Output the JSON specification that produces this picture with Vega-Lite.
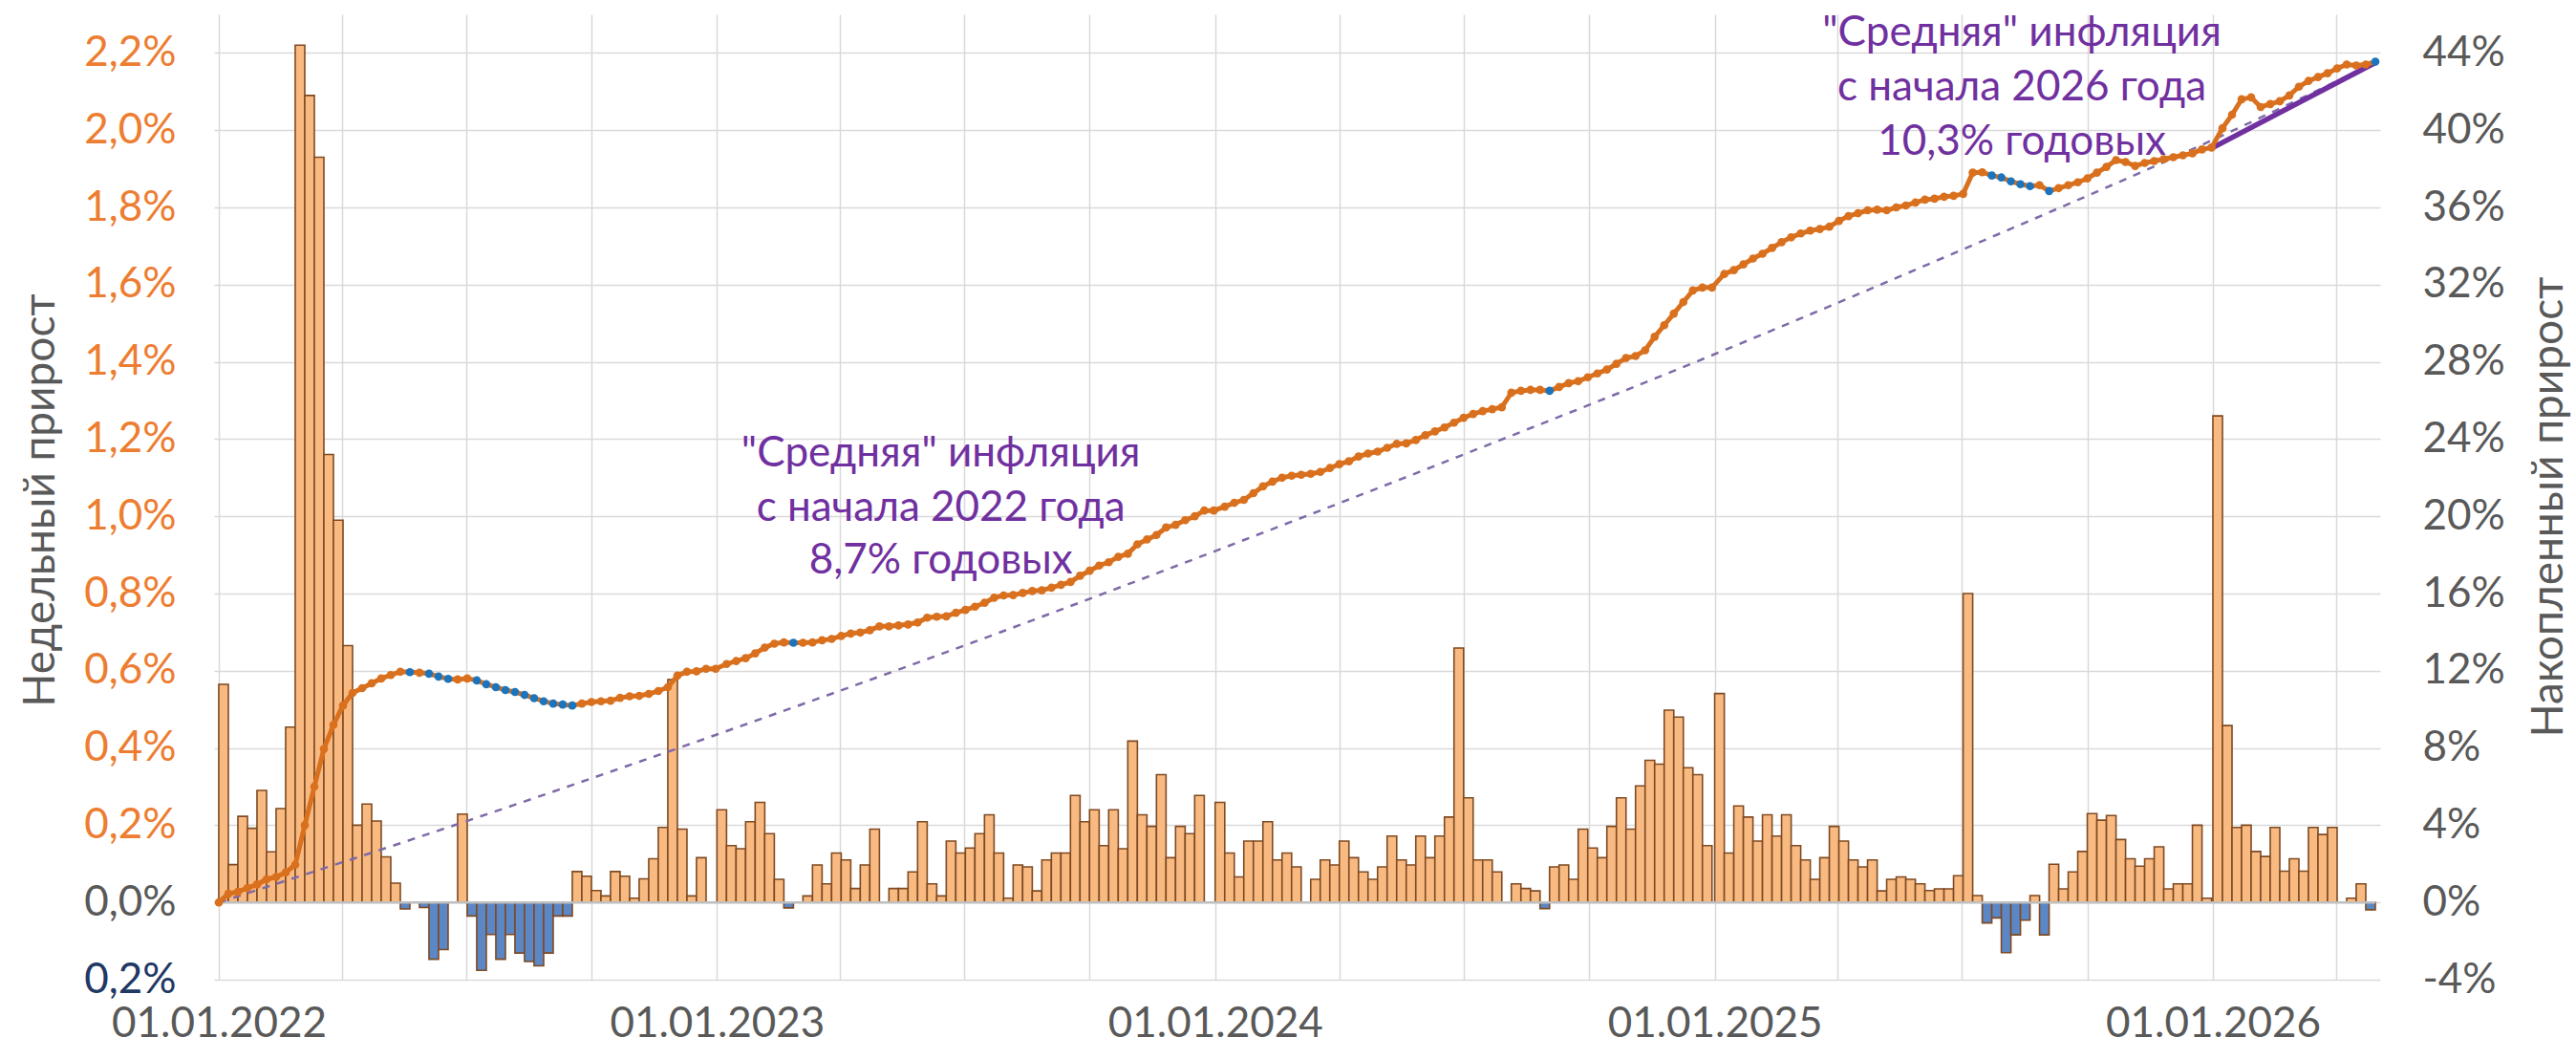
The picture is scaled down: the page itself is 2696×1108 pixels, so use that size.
{
  "$schema": "https://vega.github.io/schema/vega-lite/v6.json",
  "width": 2267,
  "height": 1010,
  "autosize": {"type": "none"},
  "padding": {"left": 224, "top": 15, "right": 205, "bottom": 83},
  "background": "white",
  "config": {"view": {"stroke": null}, "font": "Lato"},
  "datasets": {
    "weeks": [
      {"d":"2022-01-01","c":0},
      {"d":"2022-01-08","w":0.565,"c":0.45},{"d":"2022-01-15","w":0.098,"c":0.55},{"d":"2022-01-22","w":0.223,"c":0.75},{"d":"2022-01-29","w":0.192,"c":0.93},
      {"d":"2022-02-05","w":0.29,"c":1.2},{"d":"2022-02-12","w":0.131,"c":1.32},{"d":"2022-02-19","w":0.243,"c":1.55},{"d":"2022-02-26","w":0.454,"c":1.95},
      {"d":"2022-03-05","w":2.22,"c":4.0},{"d":"2022-03-12","w":2.09,"c":6.0},{"d":"2022-03-19","w":1.93,"c":7.95},{"d":"2022-03-26","w":1.16,"c":9.2},
      {"d":"2022-04-02","w":0.99,"c":10.2},{"d":"2022-04-09","w":0.665,"c":10.85},{"d":"2022-04-16","w":0.2,"c":11.1},{"d":"2022-04-23","w":0.255,"c":11.35},{"d":"2022-04-30","w":0.211,"c":11.6},
      {"d":"2022-05-07","w":0.118,"c":11.78},{"d":"2022-05-14","w":0.05,"c":11.95},{"d":"2022-05-21","w":-0.017,"c":11.93},{"d":"2022-05-28","w":0,"c":11.9},
      {"d":"2022-06-04","w":-0.013,"c":11.85},{"d":"2022-06-11","w":-0.147,"c":11.7},{"d":"2022-06-18","w":-0.122,"c":11.58},{"d":"2022-06-25","w":0,"c":11.55},
      {"d":"2022-07-02","w":0.229,"c":11.6},{"d":"2022-07-09","w":-0.035,"c":11.5},{"d":"2022-07-16","w":-0.176,"c":11.3},{"d":"2022-07-23","w":-0.083,"c":11.15},{"d":"2022-07-30","w":-0.147,"c":11.0},
      {"d":"2022-08-06","w":-0.083,"c":10.9},{"d":"2022-08-13","w":-0.131,"c":10.75},{"d":"2022-08-20","w":-0.153,"c":10.58},{"d":"2022-08-27","w":-0.164,"c":10.42},
      {"d":"2022-09-03","w":-0.131,"c":10.3},{"d":"2022-09-10","w":-0.035,"c":10.25},{"d":"2022-09-17","w":-0.035,"c":10.2},{"d":"2022-09-24","w":0.08,"c":10.3},
      {"d":"2022-10-01","w":0.068,"c":10.38},{"d":"2022-10-08","w":0.031,"c":10.42},{"d":"2022-10-15","w":0.017,"c":10.45},{"d":"2022-10-22","w":0.08,"c":10.6},{"d":"2022-10-29","w":0.068,"c":10.68},
      {"d":"2022-11-05","w":0.011,"c":10.7},{"d":"2022-11-12","w":0.061,"c":10.8},{"d":"2022-11-19","w":0.113,"c":10.95},{"d":"2022-11-26","w":0.194,"c":11.15},
      {"d":"2022-12-03","w":0.577,"c":11.75},{"d":"2022-12-10","w":0.19,"c":11.95},{"d":"2022-12-17","w":0.017,"c":11.97},{"d":"2022-12-24","w":0.116,"c":12.1},{"d":"2022-12-31","w":0,"c":12.1},
      {"d":"2023-01-08","w":0.24,"c":12.35},{"d":"2023-01-15","w":0.147,"c":12.5},{"d":"2023-01-22","w":0.139,"c":12.65},{"d":"2023-01-29","w":0.209,"c":12.9},
      {"d":"2023-02-05","w":0.259,"c":13.2},{"d":"2023-02-12","w":0.178,"c":13.4},{"d":"2023-02-19","w":0.06,"c":13.47},{"d":"2023-02-26","w":-0.014,"c":13.45},
      {"d":"2023-03-05","w":0,"c":13.45},{"d":"2023-03-12","w":0.017,"c":13.47},{"d":"2023-03-19","w":0.097,"c":13.58},{"d":"2023-03-26","w":0.048,"c":13.65},
      {"d":"2023-04-02","w":0.128,"c":13.8},{"d":"2023-04-09","w":0.11,"c":13.93},{"d":"2023-04-16","w":0.036,"c":13.98},{"d":"2023-04-23","w":0.097,"c":14.1},{"d":"2023-04-30","w":0.19,"c":14.3},
      {"d":"2023-05-07","w":0,"c":14.3},{"d":"2023-05-14","w":0.036,"c":14.35},{"d":"2023-05-21","w":0.036,"c":14.4},{"d":"2023-05-28","w":0.079,"c":14.5},
      {"d":"2023-06-04","w":0.209,"c":14.75},{"d":"2023-06-11","w":0.048,"c":14.8},{"d":"2023-06-18","w":0.017,"c":14.82},{"d":"2023-06-25","w":0.159,"c":15.0},
      {"d":"2023-07-02","w":0.128,"c":15.15},{"d":"2023-07-09","w":0.141,"c":15.32},{"d":"2023-07-16","w":0.178,"c":15.52},{"d":"2023-07-23","w":0.227,"c":15.78},{"d":"2023-07-30","w":0.128,"c":15.9},
      {"d":"2023-08-06","w":0.011,"c":15.92},{"d":"2023-08-13","w":0.097,"c":16.03},{"d":"2023-08-20","w":0.092,"c":16.13},{"d":"2023-08-27","w":0.03,"c":16.17},
      {"d":"2023-09-03","w":0.11,"c":16.3},{"d":"2023-09-10","w":0.128,"c":16.45},{"d":"2023-09-17","w":0.128,"c":16.6},{"d":"2023-09-24","w":0.277,"c":16.92},
      {"d":"2023-10-01","w":0.209,"c":17.18},{"d":"2023-10-08","w":0.24,"c":17.45},{"d":"2023-10-15","w":0.147,"c":17.62},{"d":"2023-10-22","w":0.24,"c":17.9},{"d":"2023-10-29","w":0.139,"c":18.06},
      {"d":"2023-11-05","w":0.418,"c":18.55},{"d":"2023-11-12","w":0.227,"c":18.8},{"d":"2023-11-19","w":0.197,"c":19.03},{"d":"2023-11-26","w":0.331,"c":19.42},
      {"d":"2023-12-03","w":0.116,"c":19.56},{"d":"2023-12-10","w":0.197,"c":19.8},{"d":"2023-12-17","w":0.178,"c":20.0},{"d":"2023-12-24","w":0.277,"c":20.3},{"d":"2023-12-31","w":0,"c":20.3},
      {"d":"2024-01-08","w":0.259,"c":20.5},{"d":"2024-01-15","w":0.128,"c":20.7},{"d":"2024-01-22","w":0.066,"c":20.85},{"d":"2024-01-29","w":0.159,"c":21.2},
      {"d":"2024-02-05","w":0.159,"c":21.55},{"d":"2024-02-12","w":0.209,"c":21.8},{"d":"2024-02-19","w":0.11,"c":22.0},{"d":"2024-02-26","w":0.128,"c":22.1},
      {"d":"2024-03-04","w":0.092,"c":22.15},{"d":"2024-03-11","w":0,"c":22.2},{"d":"2024-03-18","w":0.06,"c":22.3},{"d":"2024-03-25","w":0.11,"c":22.5},
      {"d":"2024-04-01","w":0.097,"c":22.7},{"d":"2024-04-08","w":0.159,"c":22.85},{"d":"2024-04-15","w":0.116,"c":23.1},{"d":"2024-04-22","w":0.079,"c":23.25},{"d":"2024-04-29","w":0.06,"c":23.35},
      {"d":"2024-05-06","w":0.092,"c":23.55},{"d":"2024-05-13","w":0.172,"c":23.75},{"d":"2024-05-20","w":0.11,"c":23.78},{"d":"2024-05-27","w":0.097,"c":23.95},
      {"d":"2024-06-03","w":0.172,"c":24.2},{"d":"2024-06-10","w":0.116,"c":24.4},{"d":"2024-06-17","w":0.172,"c":24.6},{"d":"2024-06-24","w":0.221,"c":24.85},
      {"d":"2024-07-01","w":0.659,"c":25.1},{"d":"2024-07-08","w":0.271,"c":25.3},{"d":"2024-07-15","w":0.11,"c":25.45},{"d":"2024-07-22","w":0.11,"c":25.55},{"d":"2024-07-29","w":0.079,"c":25.65},
      {"d":"2024-08-05","w":0,"c":26.4},{"d":"2024-08-12","w":0.048,"c":26.5},{"d":"2024-08-19","w":0.036,"c":26.55},{"d":"2024-08-26","w":0.03,"c":26.55},
      {"d":"2024-09-02","w":-0.016,"c":26.5},{"d":"2024-09-09","w":0.092,"c":26.7},{"d":"2024-09-16","w":0.097,"c":26.9},{"d":"2024-09-23","w":0.06,"c":27.0},{"d":"2024-09-30","w":0.19,"c":27.2},
      {"d":"2024-10-07","w":0.141,"c":27.4},{"d":"2024-10-14","w":0.116,"c":27.6},{"d":"2024-10-21","w":0.197,"c":27.9},{"d":"2024-10-28","w":0.271,"c":28.2},
      {"d":"2024-11-04","w":0.19,"c":28.3},{"d":"2024-11-11","w":0.302,"c":28.6},{"d":"2024-11-18","w":0.368,"c":29.3},{"d":"2024-11-25","w":0.358,"c":29.9},
      {"d":"2024-12-02","w":0.498,"c":30.5},{"d":"2024-12-09","w":0.48,"c":31.1},{"d":"2024-12-16","w":0.349,"c":31.7},{"d":"2024-12-23","w":0.331,"c":31.85},{"d":"2024-12-30","w":0.147,"c":31.85},
      {"d":"2025-01-08","w":0.541,"c":32.55},{"d":"2025-01-15","w":0.128,"c":32.75},{"d":"2025-01-22","w":0.25,"c":33.05},{"d":"2025-01-29","w":0.221,"c":33.35},
      {"d":"2025-02-05","w":0.159,"c":33.6},{"d":"2025-02-12","w":0.227,"c":33.9},{"d":"2025-02-19","w":0.172,"c":34.2},{"d":"2025-02-26","w":0.227,"c":34.45},
      {"d":"2025-03-05","w":0.147,"c":34.65},{"d":"2025-03-12","w":0.11,"c":34.8},{"d":"2025-03-19","w":0.06,"c":34.88},{"d":"2025-03-26","w":0.116,"c":35.0},
      {"d":"2025-04-02","w":0.197,"c":35.3},{"d":"2025-04-09","w":0.159,"c":35.55},{"d":"2025-04-16","w":0.11,"c":35.7},{"d":"2025-04-23","w":0.092,"c":35.85},{"d":"2025-04-30","w":0.11,"c":35.88},
      {"d":"2025-05-07","w":0.03,"c":35.85},{"d":"2025-05-14","w":0.06,"c":36.0},{"d":"2025-05-21","w":0.066,"c":36.1},{"d":"2025-05-28","w":0.06,"c":36.25},
      {"d":"2025-06-04","w":0.048,"c":36.4},{"d":"2025-06-11","w":0.031,"c":36.45},{"d":"2025-06-18","w":0.035,"c":36.55},{"d":"2025-06-25","w":0.035,"c":36.6},
      {"d":"2025-07-02","w":0.069,"c":36.7},{"d":"2025-07-09","w":0.8,"c":37.8},{"d":"2025-07-16","w":0.018,"c":37.82},{"d":"2025-07-23","w":-0.053,"c":37.65},{"d":"2025-07-30","w":-0.04,"c":37.55},
      {"d":"2025-08-06","w":-0.13,"c":37.35},{"d":"2025-08-13","w":-0.084,"c":37.2},{"d":"2025-08-20","w":-0.046,"c":37.1},{"d":"2025-08-27","w":0.018,"c":37.15},
      {"d":"2025-09-03","w":-0.084,"c":36.85},{"d":"2025-09-10","w":0.099,"c":37.0},{"d":"2025-09-17","w":0.035,"c":37.15},{"d":"2025-09-24","w":0.079,"c":37.3},
      {"d":"2025-10-01","w":0.132,"c":37.5},{"d":"2025-10-08","w":0.23,"c":37.8},{"d":"2025-10-15","w":0.213,"c":38.1},{"d":"2025-10-22","w":0.225,"c":38.45},{"d":"2025-10-29","w":0.163,"c":38.35},
      {"d":"2025-11-05","w":0.113,"c":38.15},{"d":"2025-11-12","w":0.094,"c":38.3},{"d":"2025-11-19","w":0.113,"c":38.4},{"d":"2025-11-26","w":0.144,"c":38.5},
      {"d":"2025-12-03","w":0.035,"c":38.6},{"d":"2025-12-10","w":0.048,"c":38.7},{"d":"2025-12-17","w":0.048,"c":38.8},{"d":"2025-12-24","w":0.2,"c":39.0},{"d":"2025-12-31","w":0.011,"c":39.1},
      {"d":"2026-01-08","w":1.26,"c":40.1},{"d":"2026-01-15","w":0.458,"c":40.8},{"d":"2026-01-22","w":0.194,"c":41.6},{"d":"2026-01-29","w":0.2,"c":41.7},
      {"d":"2026-02-05","w":0.132,"c":41.2},{"d":"2026-02-12","w":0.119,"c":41.35},{"d":"2026-02-19","w":0.194,"c":41.5},{"d":"2026-02-26","w":0.081,"c":41.8},
      {"d":"2026-03-05","w":0.113,"c":42.25},{"d":"2026-03-12","w":0.081,"c":42.55},{"d":"2026-03-19","w":0.194,"c":42.75},{"d":"2026-03-26","w":0.176,"c":42.95},
      {"d":"2026-04-02","w":0.194,"c":43.2},{"d":"2026-04-09","w":0,"c":43.4},{"d":"2026-04-16","w":0.011,"c":43.35},{"d":"2026-04-23","w":0.048,"c":43.4},{"d":"2026-04-30","w":-0.019,"c":43.55}
    ],
    "avg22": [
      {"d":"2022-01-01","c":0},{"d":"2022-07-01","c":4.2},{"d":"2023-01-01","c":8.7},{"d":"2023-07-01","c":13.3},
      {"d":"2024-01-01","c":18.2},{"d":"2024-07-01","c":23.2},{"d":"2025-01-01","c":28.4},{"d":"2025-07-01","c":33.8},
      {"d":"2026-01-01","c":39.5},{"d":"2026-04-30","c":43.5}
    ],
    "avg26": [
      {"d":"2026-01-01","c":39.1},{"d":"2026-04-30","c":43.5}
    ],
    "zero": [
      {"d":"2022-01-01","c":0},{"d":"2026-04-30","c":0}
    ],
    "notes": [
      {"d":"2023-06-14","c":22.57,"t":"\"Средняя\" инфляция"},
      {"d":"2023-06-14","c":19.75,"t":"с начала 2022 года"},
      {"d":"2023-06-14","c":17.03,"t":"8,7% годовых"},
      {"d":"2025-08-14","c":44.36,"t":"\"Средняя\" инфляция"},
      {"d":"2025-08-14","c":41.53,"t":"с начала 2026 года"},
      {"d":"2025-08-14","c":38.73,"t":"10,3% годовых"}
    ]
  },
  "encoding": {
    "x": {
      "field": "d",
      "type": "temporal",
      "scale": {
        "type": "utc",
        "domain": [
          {"year": 2022, "month": 1, "date": 1, "utc": true},
          {"year": 2026, "month": 4, "date": 30, "utc": true}
        ]
      },
      "axis": {
        "values": [
          {"year": 2022, "month": 1, "date": 1, "utc": true},
          {"year": 2022, "month": 4, "date": 1, "utc": true},
          {"year": 2022, "month": 7, "date": 1, "utc": true},
          {"year": 2022, "month": 10, "date": 1, "utc": true},
          {"year": 2023, "month": 1, "date": 1, "utc": true},
          {"year": 2023, "month": 4, "date": 1, "utc": true},
          {"year": 2023, "month": 7, "date": 1, "utc": true},
          {"year": 2023, "month": 10, "date": 1, "utc": true},
          {"year": 2024, "month": 1, "date": 1, "utc": true},
          {"year": 2024, "month": 4, "date": 1, "utc": true},
          {"year": 2024, "month": 7, "date": 1, "utc": true},
          {"year": 2024, "month": 10, "date": 1, "utc": true},
          {"year": 2025, "month": 1, "date": 1, "utc": true},
          {"year": 2025, "month": 4, "date": 1, "utc": true},
          {"year": 2025, "month": 7, "date": 1, "utc": true},
          {"year": 2025, "month": 10, "date": 1, "utc": true},
          {"year": 2026, "month": 1, "date": 1, "utc": true},
          {"year": 2026, "month": 4, "date": 1, "utc": true}
        ],
        "labelExpr": "utcmonth(datum.value) == 0 ? utcFormat(datum.value, '%d.%m.%Y') : ''",
        "labelColor": "#595959",
        "labelFontSize": 44,
        "labelPadding": 24,
        "labelLimit": 500,
        "labelOverlap": false,
        "labelBound": false,
        "labelFlush": false,
        "grid": true,
        "gridColor": "#D9D9D9",
        "gridWidth": 1.5,
        "domain": false,
        "ticks": false,
        "title": null
      }
    }
  },
  "layer": [
    {
      "data": {"name": "weeks"},
      "transform": [{"filter": "isValid(datum.w) && datum.w != 0"}],
      "mark": {"type": "bar", "width": 10.04, "xOffset": -5.02, "stroke": "#7E4A22", "strokeWidth": 1.6},
      "encoding": {
        "y": {
          "field": "w",
          "type": "quantitative",
          "scale": {"domain": [-0.2, 2.3], "nice": false, "zero": false},
          "axis": {
            "orient": "left",
            "values": [-0.2, 0, 0.2, 0.4, 0.6, 0.8, 1, 1.2, 1.4, 1.6, 1.8, 2, 2.2],
            "labelExpr": "replace(format(abs(datum.value), '.1f'), '.', ',') + '%'",
            "labelColor": {
              "condition": [
                {"test": "datum.value < 0", "value": "#1F3864"},
                {"test": "datum.value == 0", "value": "#595959"}
              ],
              "value": "#ED7D31"
            },
            "labelFontSize": 44,
            "labelPadding": 40,
            "labelLimit": 300,
            "grid": true,
            "gridColor": "#D9D9D9",
            "gridWidth": 1.5,
            "domain": false,
            "ticks": false,
            "title": "Недельный прирост",
            "titleFontSize": 46,
            "titleFontWeight": "normal",
            "titleColor": "#595959",
            "titleAngle": 270,
            "titleAlign": "center",
            "titleBaseline": "middle",
            "titleX": -182,
            "titleY": 508,
            "titleLimit": 1000
          }
        },
        "color": {
          "condition": {"test": "datum.w < 0", "value": "#5B87C6"},
          "value": "#F9BA82"
        }
      }
    },
    {
      "encoding": {
        "y": {
          "field": "c",
          "type": "quantitative",
          "scale": {"domain": [-4, 46], "nice": false, "zero": false},
          "axis": {
            "orient": "right",
            "values": [-4, 0, 4, 8, 12, 16, 20, 24, 28, 32, 36, 40, 44],
            "labelExpr": "datum.value + '%'",
            "labelColor": "#595959",
            "labelFontSize": 44,
            "labelPadding": 44,
            "labelLimit": 300,
            "grid": false,
            "domain": false,
            "ticks": false,
            "title": "Накопленный прирост",
            "titleFontSize": 46,
            "titleFontWeight": "normal",
            "titleColor": "#595959",
            "titleAngle": 270,
            "titleAlign": "center",
            "titleBaseline": "middle",
            "titleX": 176,
            "titleY": 515,
            "titleLimit": 1000
          }
        }
      },
      "layer": [
        {
          "data": {"name": "zero"},
          "mark": {"type": "line", "color": "#BFBFBF", "strokeWidth": 2.5}
        },
        {
          "data": {"name": "avg22"},
          "mark": {"type": "line", "color": "#7E6AA8", "strokeWidth": 2.5, "strokeDash": [8, 8], "interpolate": "monotone"}
        },
        {
          "data": {"name": "avg26"},
          "mark": {"type": "line", "color": "#7030A0", "strokeWidth": 5.5}
        },
        {
          "data": {"name": "weeks"},
          "mark": {"type": "line", "color": "#D9701E", "strokeWidth": 5}
        },
        {
          "data": {"name": "weeks"},
          "mark": {"type": "point", "filled": true, "size": 75, "opacity": 1},
          "encoding": {
            "color": {
              "condition": {"test": "datum.w < 0", "value": "#1C75BC"},
              "value": "#D9701E"
            }
          }
        },
        {
          "data": {"name": "notes"},
          "mark": {"type": "text", "align": "center", "baseline": "alphabetic", "fontSize": 44, "font": "Lato", "color": "#7030A0"},
          "encoding": {"text": {"field": "t"}}
        }
      ]
    }
  ],
  "resolve": {"scale": {"y": "independent"}}
}
